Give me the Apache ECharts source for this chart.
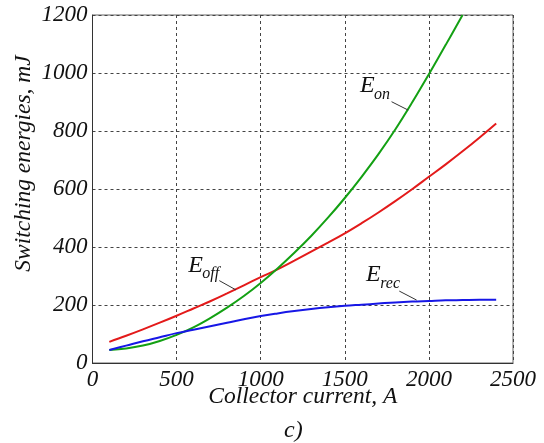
<!DOCTYPE html>
<html>
<head>
<meta charset="utf-8">
<title>Switching energies vs collector current</title>
<script src="https://cdn.jsdelivr.net/npm/echarts@6/dist/echarts.min.js"></script>
<style>
  html, body { margin: 0; padding: 0; background: #ffffff; }
  #chart { width: 544px; height: 443px; }
</style>
</head>
<body>
<div id="chart"></div>
<script>
// Collector current samples, A
const currents = [100, 200, 300, 400, 500, 600, 700, 800, 900, 1000, 1100, 1200,
                  1300, 1400, 1500, 1600, 1700, 1800, 1900, 2000, 2100, 2200, 2300, 2400];

// Turn-off energy, mJ
const eOff = [73, 94, 116, 139, 163, 188, 213, 240, 268, 296, 323, 353,
              384, 415, 447, 482, 519, 558, 599, 642, 685, 730, 777, 826];

// Turn-on energy, mJ (curve leaves the plot at 1200 mJ)
const eOn = [45, 50, 60, 76, 97, 123, 155, 191, 231, 276, 326, 380,
             438, 501, 569, 642, 720, 805, 898, 996, 1097, 1200];

// Diode reverse-recovery energy, mJ
const eRec = [45, 60, 75, 89, 103, 115, 127, 139, 151, 162, 171, 179,
              186, 192, 197, 201, 205, 209, 212, 214, 216, 217, 218, 218];

// Axis ranges and ticks
const xTicks = [0, 500, 1000, 1500, 2000, 2500];
const yTicks = [0, 200, 400, 600, 800, 1000, 1200];

// Curve labels: main letter, subscript, text anchor (left, baseline) in data units
const labelMain = ['E', 'E', 'E'];
const labelSub = ['on', 'off', 'rec'];
const labelAnchor = [[1590, 928], [569, 309], [1626, 275]];
// Leader lines from each label to its curve, data units
const leaderStart = [[1778, 901], [754, 284], [1824, 248]];
const leaderEnd = [[1877, 872], [853, 252], [1927, 217]];

const serif = '"Liberation Serif", "Times New Roman", serif';
const pairs = (xs, ys) => ys.map((v, i) => [xs[i], v]);

const chart = echarts.init(document.getElementById('chart'), null, { renderer: 'canvas' });

function leader(i) {
  return {
    silent: true,
    symbol: 'none',
    label: { show: false },
    emphasis: { disabled: true },
    lineStyle: { color: '#333', width: 1, type: 'solid' },
    data: [[{ coord: leaderStart[i] }, { coord: leaderEnd[i] }]]
  };
}

function curve(name, values, color, idx) {
  return {
    name: name,
    type: 'line',
    data: pairs(currents, values),
    showSymbol: false,
    smooth: 0.4,
    lineStyle: { color: color, width: 2 },
    itemStyle: { color: color },
    emphasis: { disabled: true },
    markLine: leader(idx)
  };
}

const axisText = { fontFamily: serif, fontStyle: 'italic', color: '#111' };
const plainNumber = v => String(v);

chart.setOption({
  animation: false,
  title: {
    text: 'c)',
    left: 284,
    top: 419,
    padding: 0,
    textStyle: Object.assign({ fontSize: 24, fontWeight: 'normal' }, axisText)
  },
  grid: {
    left: 92.5, right: 31, top: 15, bottom: 80,
    outerBoundsMode: 'none',
    containLabel: false,
    show: true, borderColor: '#666', borderWidth: 1
  },
  xAxis: {
    type: 'value',
    min: xTicks[0], max: xTicks[xTicks.length - 1], interval: xTicks[1] - xTicks[0],
    name: 'Collector current, A',
    nameLocation: 'middle',
    nameGap: 22,
    nameMoveOverlap: false,
    nameTextStyle: Object.assign({ fontSize: 23.5 }, axisText),
    axisLine: { show: true, onZero: false, lineStyle: { color: '#333', width: 1 } },
    axisTick: { show: false },
    axisLabel: Object.assign({ fontSize: 23, margin: 5, formatter: plainNumber }, axisText),
    splitLine: { show: true, lineStyle: { color: '#444', type: [3, 3], width: 1 } }
  },
  yAxis: {
    type: 'value',
    min: yTicks[0], max: yTicks[yTicks.length - 1], interval: yTicks[1] - yTicks[0],
    name: 'Switching energies, mJ',
    nameLocation: 'middle',
    nameGap: 57,
    nameMoveOverlap: false,
    nameTextStyle: Object.assign({ fontSize: 23.5, padding: [0, 0, 0, 51] }, axisText),
    axisLine: { show: true, onZero: false, lineStyle: { color: '#333', width: 1 } },
    axisTick: { show: false },
    axisLabel: Object.assign({ fontSize: 23, margin: 5, formatter: plainNumber }, axisText),
    splitLine: { show: true, lineStyle: { color: '#444', type: [3, 3], width: 1 } }
  },
  series: [
    curve('Eoff', eOff, '#e31a1a', 1),
    curve('Eon', eOn, '#13a013', 0),
    curve('Erec', eRec, '#1717e6', 2)
  ]
});

// Curve labels with subscripts, placed through the grid's coordinate system
const mainFont = 'italic 24px "Liberation Serif"';
const subFont = 'italic 16px "Liberation Serif"';
const ctx = document.createElement('canvas').getContext('2d');
ctx.font = mainFont;
const graphics = [];
labelAnchor.forEach((a, i) => {
  const p = chart.convertToPixel({ gridIndex: 0 }, a);
  const w = ctx.measureText(labelMain[i]).width;
  graphics.push({
    type: 'text', x: p[0], y: p[1] - 0.34 * 24, silent: true,
    style: { text: labelMain[i], font: mainFont, fill: '#111', align: 'left', verticalAlign: 'middle' }
  });
  graphics.push({
    type: 'text', x: p[0] + w - 0.5, y: p[1] + 6 - 0.34 * 16, silent: true,
    style: { text: labelSub[i], font: subFont, fill: '#111', align: 'left', verticalAlign: 'middle' }
  });
});
chart.setOption({ graphic: graphics });
</script>
</body>
</html>
